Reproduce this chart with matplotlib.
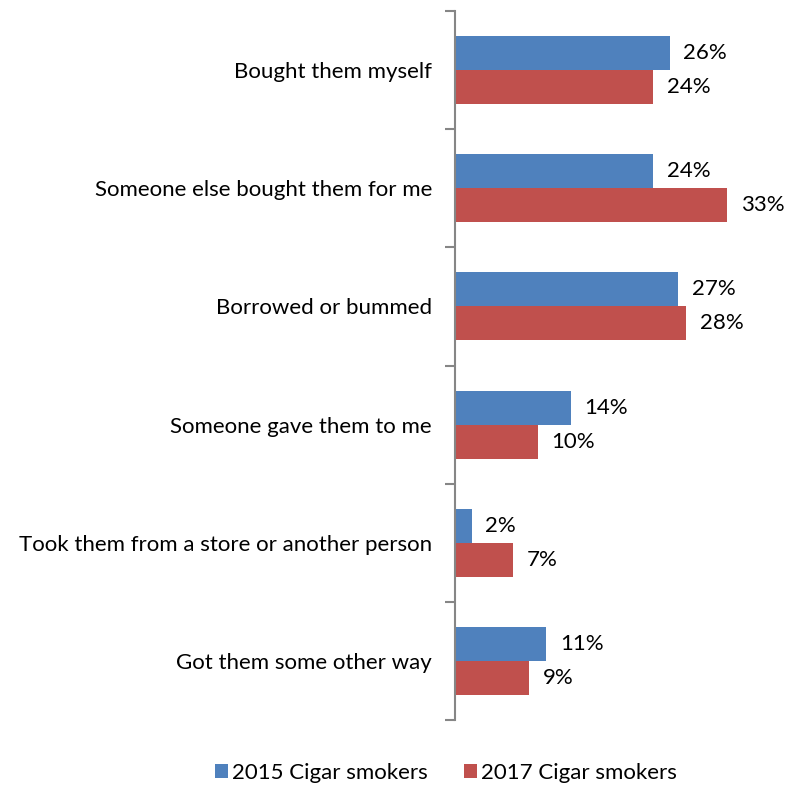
import matplotlib
matplotlib.use("Agg")
import matplotlib.pyplot as plt
import numpy as np

categories = ["Bought them myself", "Someone else bought them for me", "Borrowed or bummed",
              "Someone gave them to me", "Took them from a store or another person",
              "Got them some other way"]
s2015 = [26, 24, 27, 14, 2, 11]
s2017 = [24, 33, 28, 10, 7, 9]
series_names = ["2015 Cigar smokers", "2017 Cigar smokers"]
colors = ["#4F81BD", "#C0504D"]

plt.rcParams['font.family'] = ['Lato', 'DejaVu Sans']
fig = plt.figure(figsize=(7.97, 7.88), dpi=100)
ax = fig.add_axes([455/797, 1-720/788, 330/797, 709/788])

y = np.arange(len(categories))
h = 34/118
b1 = ax.barh(y - h/2, s2015, height=h, color=colors[0], label=series_names[0])
b2 = ax.barh(y + h/2, s2017, height=h, color=colors[1], label=series_names[1])
for bars, vals in ((b1, s2015), (b2, s2017)):
    for bar, v in zip(bars, vals):
        ax.annotate(f"{v}%", (bar.get_width(), bar.get_y() + bar.get_height()/2),
                    xytext=(14, 0), textcoords="offset pixels",
                    va="center", ha="left", fontsize=16, color="#000000")

ax.set_xlim(0, 40)
ax.set_ylim(len(categories) - 0.5, -0.5)
ax.set_yticks(y)
ax.set_yticklabels(categories, fontsize=16)
ax.tick_params(axis='y', which='major', length=0, pad=16.5)
ax.set_yticks(np.arange(-0.5, len(categories)), minor=True)
ax.tick_params(axis='y', which='minor', length=7, width=1.5, color="#868686")
ax.set_xticks([])
for s in ("top", "right", "bottom"):
    ax.spines[s].set_visible(False)
ax.spines["left"].set_color("#868686")
ax.spines["left"].set_linewidth(1.5)

fig.legend(handles=[b1, b2], labels=series_names, loc="center", bbox_to_anchor=(446/797, 1-773/788),
           ncol=2, frameon=False, fontsize=16, handlelength=0.6, handleheight=0.6,
           handletextpad=0.2, columnspacing=1.6)
fig.savefig("out.png", dpi=100)
